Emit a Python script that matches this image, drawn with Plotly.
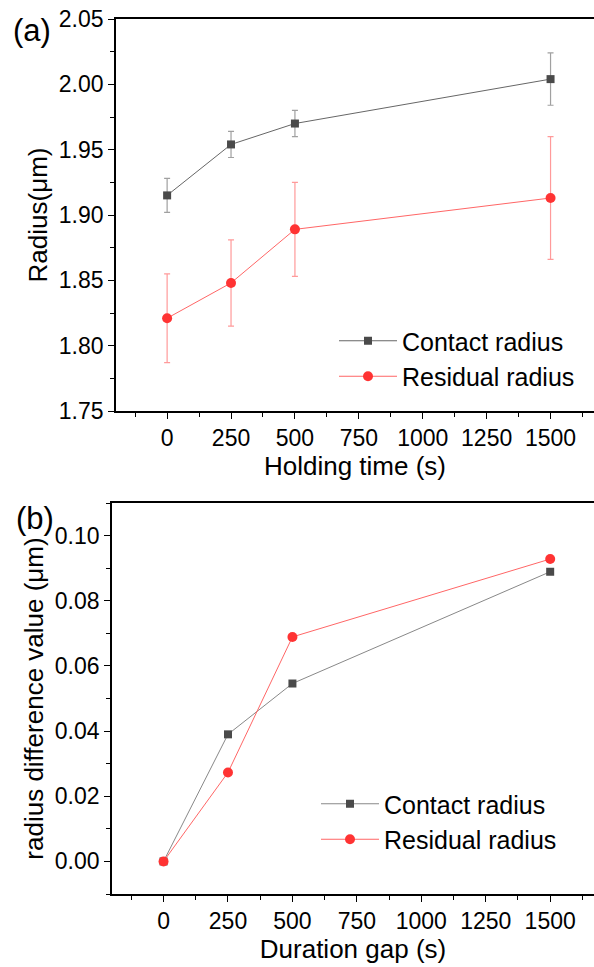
import plotly.graph_objects as go

# ---- data ----
hold_time = [0, 250, 500, 1500]
contact_radius = [1.915, 1.954, 1.970, 2.004]
contact_err = [0.013, 0.010, 0.010, 0.020]
residual_radius = [1.821, 1.848, 1.889, 1.913]
residual_err = [0.034, 0.033, 0.036, 0.047]

gap_time = [0, 250, 500, 1500]
contact_diff = [0.0, 0.039, 0.0546, 0.0889]
residual_diff = [0.0, 0.0273, 0.0689, 0.0928]

W, H = 594, 967
FONT = "Liberation Sans, Arial, sans-serif"
GRAY_M = "#4a4a4a"
GRAY_L = "#666666"
RED_M = "#ff3333"
RED_L = "#ff6666"
TICK = 23
TITLE = 26
LEG = 25

fig = go.Figure()

fig.add_trace(go.Scatter(
    x=hold_time, y=contact_radius, name="Contact radius", mode="lines+markers",
    line=dict(color=GRAY_L, width=1),
    marker=dict(symbol="square", size=8, color=GRAY_M),
    error_y=dict(type="data", array=contact_err, color="#a0a0a0", thickness=1.2, width=3),
    xaxis="x", yaxis="y", legend="legend"))
fig.add_trace(go.Scatter(
    x=hold_time, y=residual_radius, name="Residual radius", mode="lines+markers",
    line=dict(color=RED_L, width=1),
    marker=dict(symbol="circle", size=10, color=RED_M),
    error_y=dict(type="data", array=residual_err, color="#ff9a9a", thickness=1.2, width=3),
    xaxis="x", yaxis="y", legend="legend"))

fig.add_trace(go.Scatter(
    x=gap_time, y=contact_diff, name="Contact radius", mode="lines+markers",
    line=dict(color="#888888", width=1),
    marker=dict(symbol="square", size=8, color=GRAY_M),
    xaxis="x2", yaxis="y2", legend="legend2"))
fig.add_trace(go.Scatter(
    x=gap_time, y=residual_diff, name="Residual radius", mode="lines+markers",
    line=dict(color=RED_L, width=1),
    marker=dict(symbol="circle", size=10, color=RED_M),
    xaxis="x2", yaxis="y2", legend="legend2"))

def xax(domain, anchor, title):
    return dict(domain=domain, anchor=anchor, range=[-200, 1670],
                tickmode="array", tickvals=[0, 250, 500, 750, 1000, 1250, 1500],
                ticks="outside", ticklen=6, tickwidth=1.3, tickcolor="black",
                minor=dict(dtick=125, tick0=0, ticks="outside", ticklen=4, tickwidth=1.3, tickcolor="black"),
                showline=True, linecolor="black", linewidth=1.6, mirror=True,
                showgrid=False, zeroline=False, automargin=False,
                tickfont=dict(size=TICK, family=FONT, color="black"),
                title=dict(text=title, font=dict(size=TITLE, family=FONT, color="black"), standoff=4))

def yax(domain, anchor, rng, dtick, minor, title, fmt):
    return dict(domain=domain, anchor=anchor, range=rng, dtick=dtick, tick0=0,
                ticks="outside", ticklen=6, tickwidth=1.3, tickcolor="black",
                minor=dict(dtick=minor, ticks="outside", ticklen=4, tickwidth=1.3, tickcolor="black"),
                showline=True, linecolor="black", linewidth=1.6,
                showgrid=False, zeroline=False, automargin=False, tickformat=fmt,
                tickfont=dict(size=TICK, family=FONT, color="black"),
                title=dict(text=title, font=dict(size=TITLE, family=FONT, color="black"), standoff=4))

fig.update_layout(
    width=W, height=H, margin=dict(l=0, r=0, t=0, b=0),
    paper_bgcolor="white", plot_bgcolor="white",
    font=dict(family=FONT, color="black"),
    xaxis=xax([116 / W, 1], "y", "Holding time (s)"),
    yaxis=yax([1 - 411 / H, 1 - 19 / H], "x", [1.75, 2.05], 0.05, 0.025, "Radius(μm)", ".2f"),
    xaxis2=xax([112 / W, 1], "y2", "Duration gap (s)"),
    yaxis2=yax([1 - 894 / H, 1 - 503 / H], "x2", [-0.01, 0.11], 0.02, 0.01,
               "radius difference value (μm)", ".2f"),
    legend=dict(x=334 / W, y=1 - 318 / H, xanchor="left", yanchor="top",
                font=dict(size=LEG, family=FONT, color="black"), itemwidth=58,
                bgcolor="rgba(0,0,0,0)", tracegroupgap=0),
    legend2=dict(x=316 / W, y=1 - 781 / H, xanchor="left", yanchor="top",
                 font=dict(size=LEG, family=FONT, color="black"), itemwidth=58,
                 bgcolor="rgba(0,0,0,0)", tracegroupgap=0),
    showlegend=True,
    annotations=[
        dict(text="(a)", x=32 / W, y=1 - 30 / H, xref="paper", yref="paper",
             xanchor="center", yanchor="middle",
             showarrow=False, font=dict(size=31, family=FONT, color="black")),
        dict(text="(b)", x=35 / W, y=1 - 518 / H, xref="paper", yref="paper",
             xanchor="center", yanchor="middle",
             showarrow=False, font=dict(size=31, family=FONT, color="black")),
    ],
)

fig.write_html("out.html")
